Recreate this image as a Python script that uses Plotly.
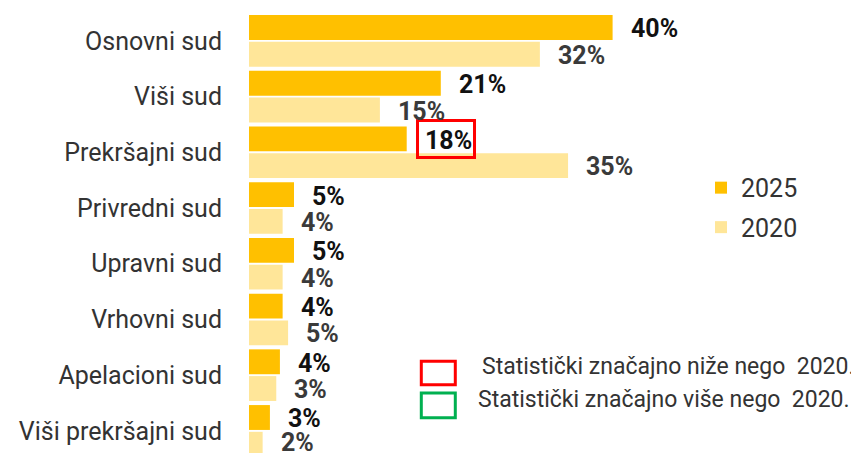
import plotly.graph_objects as go

categories = ["Osnovni sud", "Viši sud", "Prekršajni sud", "Privredni sud",
              "Upravni sud", "Vrhovni sud", "Apelacioni sud", "Viši prekršajni sud"]
values_2025 = [40.0, 21.1, 17.35, 4.95, 4.95, 3.7, 3.4, 2.3]
values_2020 = [32.0, 14.4, 35.1, 3.7, 3.7, 4.3, 3.0, 1.5]
labels_2025 = ["40%", "21%", "18%", "5%", "5%", "4%", "4%", "3%"]
labels_2020 = ["32%", "15%", "35%", "4%", "4%", "5%", "3%", "2%"]
series_names = ["2025", "2020"]
sig_lower_2025 = ["Prekršajni sud"]
note_lower = "Statistički značajno niže nego\u00a0 2020."
note_higher = "Statistički značajno više nego\u00a0 2020."

C25 = "#FFC000"
C20 = "#FFE699"
FONT = "Roboto"

OFF = 8  # page body margin
W, H = 859 - OFF, 453 - OFF
ML, MT = 249 - OFF, 13.15 - OFF
PW = W - ML
PH = H - MT
XMAX = PW / 9.09

fig = go.Figure()
fig.add_trace(go.Bar(y=categories, x=values_2025, name=series_names[0], orientation="h",
                     marker=dict(color=C25, line=dict(width=0)), legendgroup="a",
                     hoverinfo="skip"))
fig.add_trace(go.Bar(y=categories, x=values_2020, name=series_names[1], orientation="h",
                     marker=dict(color=C20, line=dict(width=0)), legendgroup="b",
                     hoverinfo="skip"))

annotations = []
for cat, v, t in zip(categories, values_2025, labels_2025):
    annotations.append(dict(x=v, y=cat, xref="x", yref="y", text=t, showarrow=False,
                            xanchor="left", yanchor="middle", xshift=16, yshift=12,
                            font=dict(family=FONT, size=25, color="#111111", weight="bold")))
n = len(categories)
for k, (cat, v, t) in enumerate(zip(categories, values_2020, labels_2020)):
    annotations.append(dict(x=v, y=cat, xref="x", yref="y", text=t, showarrow=False,
                            xanchor="left", yanchor="middle", xshift=16,
                            yshift=-12 if k == n - 1 else -14.5,
                            font=dict(family=FONT, size=25, color="#3a3a3a", weight="bold")))

def px_x(p):
    return (p - OFF - ML) / PW

def px_y(p):
    return 1 - (p - OFF - MT) / PH

annotations.append(dict(x=px_x(480), y=px_y(367), xref="paper", yref="paper", text=note_lower,
                        showarrow=False, xanchor="left", yanchor="middle",
                        font=dict(family=FONT, size=23, color="#333333")))
annotations.append(dict(x=px_x(476), y=px_y(400), xref="paper", yref="paper", text=note_higher,
                        showarrow=False, xanchor="left", yanchor="middle",
                        font=dict(family=FONT, size=23, color="#333333")))

shapes = []
for cat in sig_lower_2025:
    i = categories.index(cat)
    shapes.append(dict(type="rect", xref="x", yref="y", xsizemode="pixel", ysizemode="pixel",
                       xanchor=values_2025[i], yanchor=cat, x0=10.8, x1=67.8, y0=-5.1, y1=31.9,
                       line=dict(color="#FF0000", width=3), fillcolor="rgba(0,0,0,0)"))
shapes.append(dict(type="rect", xref="paper", yref="paper", x0=px_x(421.3), x1=px_x(455.3),
                   y0=px_y(384.7), y1=px_y(361.3), line=dict(color="#FF0000", width=3)))
shapes.append(dict(type="rect", xref="paper", yref="paper", x0=px_x(421.3), x1=px_x(455.3),
                   y0=px_y(417.7), y1=px_y(393), line=dict(color="#00B050", width=3)))

fig.update_layout(
    width=W, height=H,
    margin=dict(l=ML, r=0, t=MT, b=0, pad=0),
    paper_bgcolor="white", plot_bgcolor="white",
    barmode="group", bargap=0.04, bargroupgap=0.07,
    font=dict(family=FONT, color="#333333"),
    xaxis=dict(range=[0, XMAX], visible=False, showgrid=False, zeroline=False, fixedrange=True),
    yaxis=dict(categoryorder="array", categoryarray=categories, range=[7.397, -0.5],
               autorange=False, showgrid=False, zeroline=False, showline=False, ticks="",
               ticklabelstandoff=26, tickfont=dict(family=FONT, size=25, color="#333333")),
    showlegend=True,
    legend=dict(x=px_x(701), y=px_y(165), xanchor="left", yanchor="top",
                traceorder="grouped", tracegroupgap=4,
                font=dict(family=FONT, size=25, color="#333333"),
                bgcolor="rgba(0,0,0,0)", borderwidth=0),
    annotations=annotations, shapes=shapes,
)

fig.write_html("out.html")
